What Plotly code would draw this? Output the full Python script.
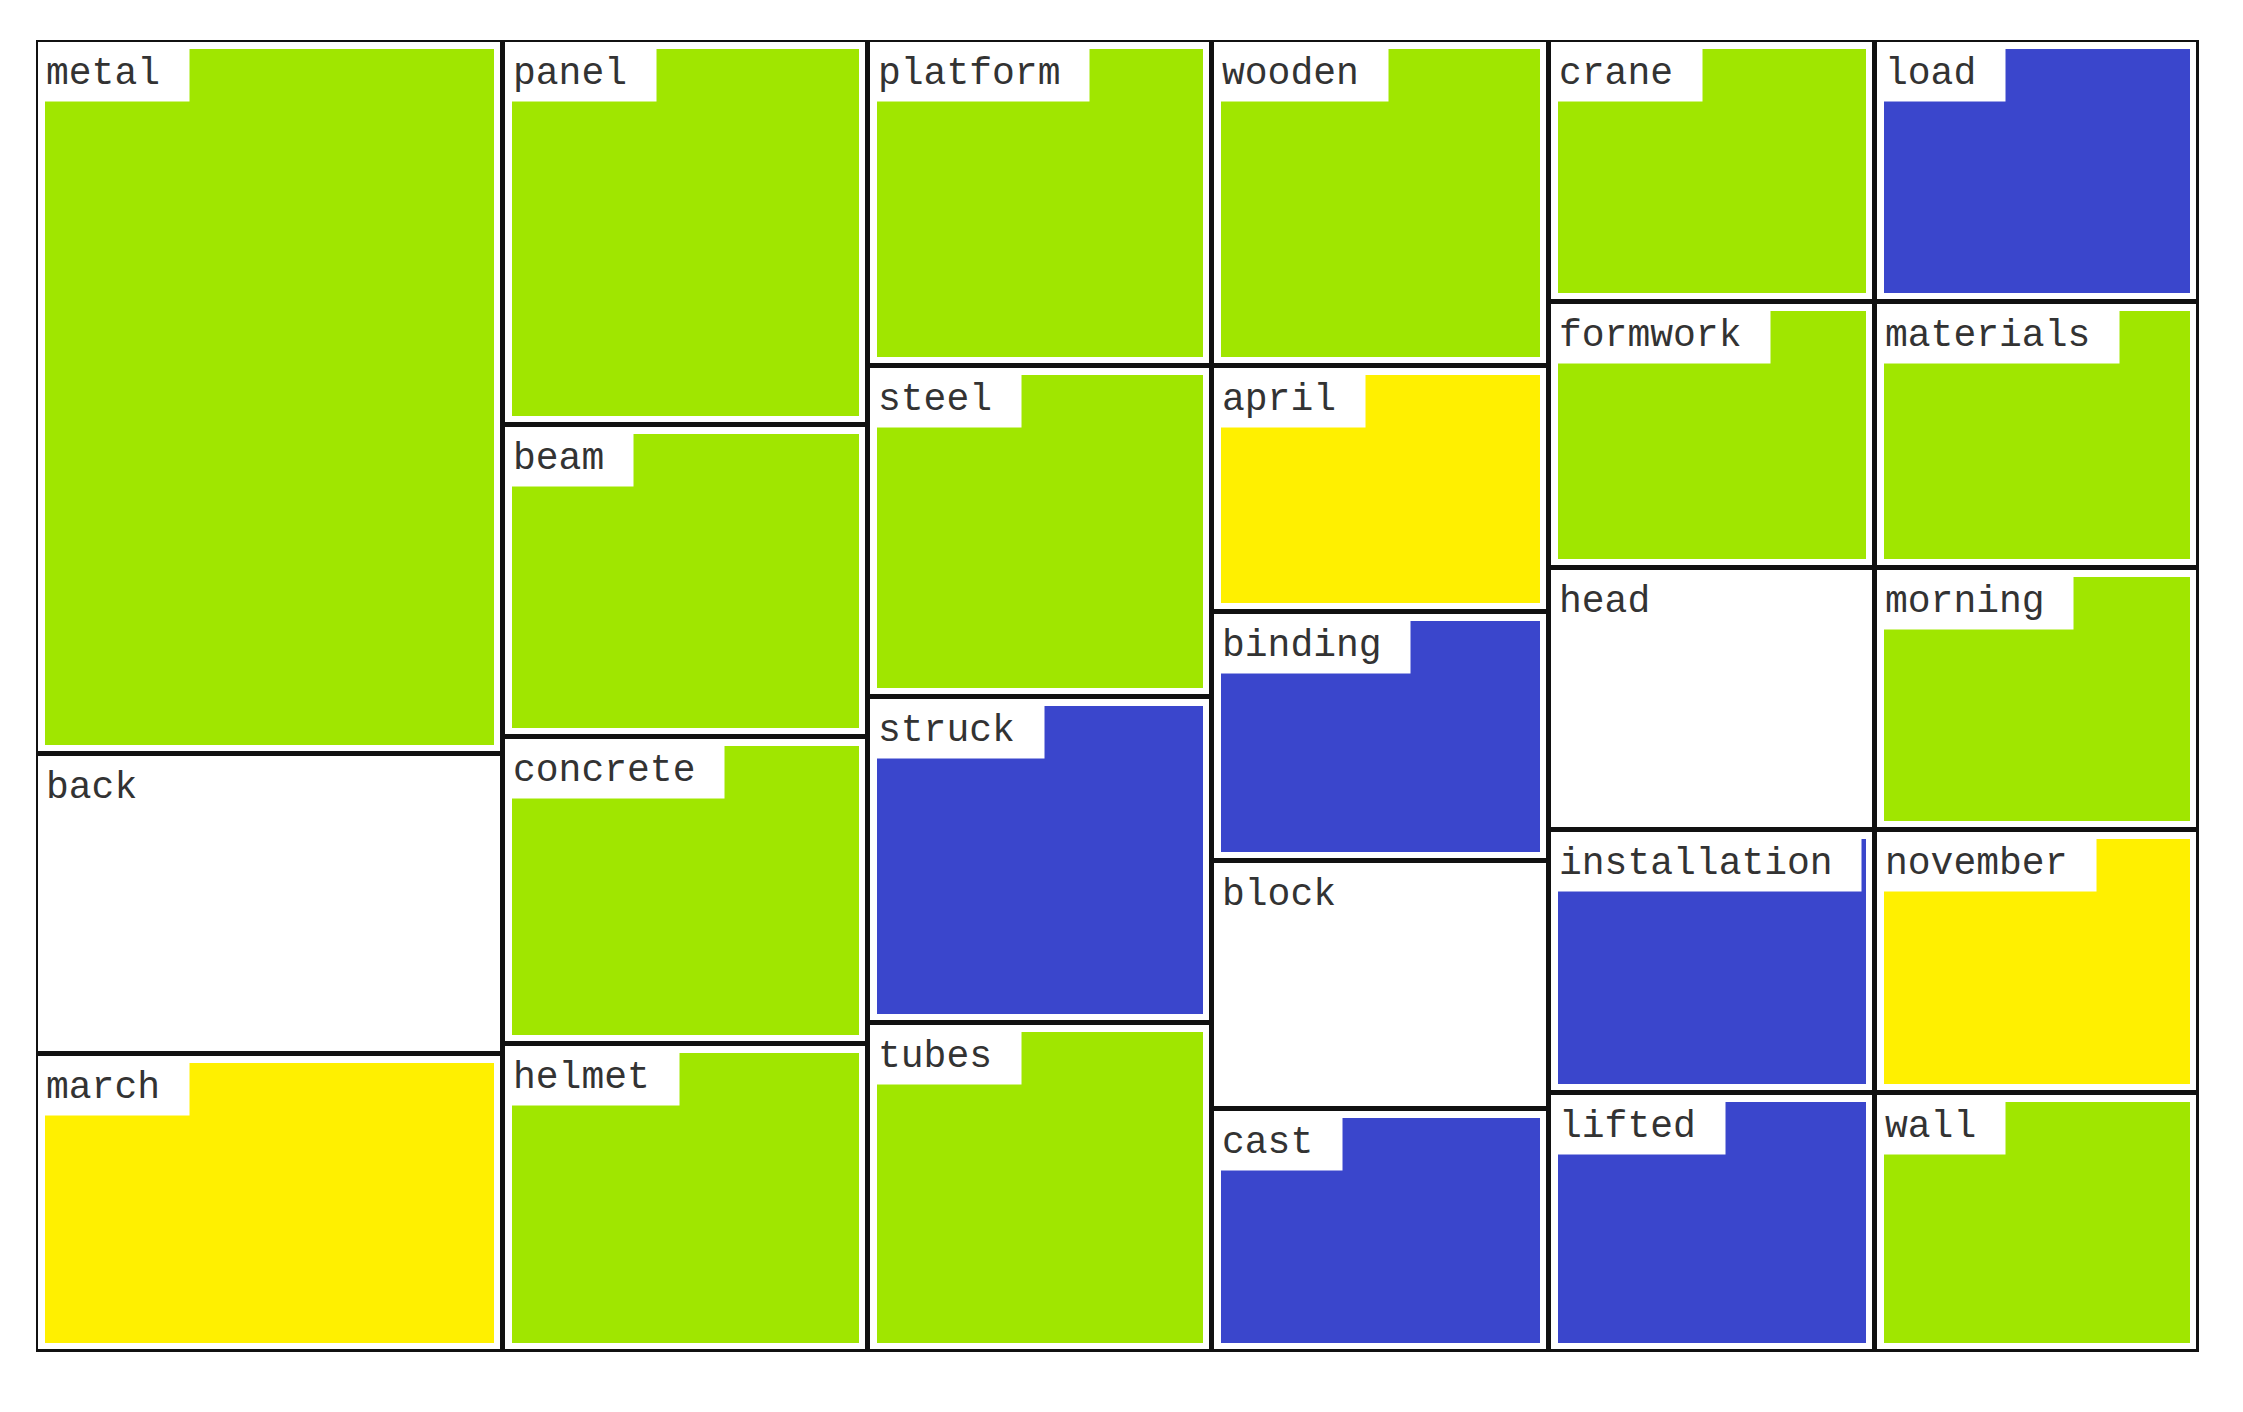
import plotly.graph_objects as go

# word cells, column by column (top to bottom)
labels = ["metal", "back", "march",
          "panel", "beam", "concrete", "helmet",
          "platform", "steel", "struck", "tubes",
          "wooden", "april", "binding", "block", "cast",
          "crane", "formwork", "head", "installation", "lifted",
          "load", "materials", "morning", "november", "wall"]
columns = [0, 0, 0,
           1, 1, 1, 1,
           2, 2, 2, 2,
           3, 3, 3, 3, 3,
           4, 4, 4, 4, 4,
           5, 5, 5, 5, 5]
heights = [714, 300, 298,
           385, 312, 307, 308,
           326, 331, 326, 329,
           326, 246, 249, 248, 243,
           262, 266, 262, 263, 259,
           262, 266, 262, 263, 259]
groups = ["green", "white", "yellow",
          "green", "green", "green", "green",
          "green", "green", "blue", "green",
          "green", "yellow", "blue", "white", "blue",
          "green", "green", "white", "blue", "blue",
          "blue", "green", "green", "yellow", "green"]
col_widths = [467, 365, 344, 337, 326, 324]

palette = {"green": "#a0e600", "yellow": "#fff000", "blue": "#3a46cc", "white": "#ffffff"}

# work out the cell positions from the column widths and cell heights
col_left = [sum(col_widths[:i]) for i in range(len(col_widths))]
x_center, width, base = [], [], []
running = [0] * len(col_widths)
for c, h in zip(columns, heights):
    x_center.append(col_left[c] + col_widths[c] / 2)
    width.append(col_widths[c])
    base.append(running[c])
    running[c] += h

inset = 9
fig = go.Figure()
# outer cells: white with black frame
fig.add_trace(go.Bar(x=x_center, y=heights, base=base, width=width,
                     marker=dict(color="white", line=dict(color="#111111", width=5)),
                     cliponaxis=False, hoverinfo="skip", showlegend=False))
# coloured fill inside each cell
fig.add_trace(go.Bar(x=x_center, y=[h - 2 * inset for h in heights],
                     base=[b + inset for b in base],
                     width=[w - 2 * inset for w in width],
                     marker=dict(color=[palette[g] for g in groups], line=dict(width=0)),
                     text=labels, hoverinfo="text", textposition="none", showlegend=False))

for lab, c, b in zip(labels, columns, base):
    fig.add_annotation(x=col_left[c], y=b, text=lab + "\u00a0", showarrow=False,
                       xanchor="left", yanchor="top", xshift=3, yshift=-5,
                       bgcolor="white", borderpad=6,
                       font=dict(family="Liberation Mono", size=38, color="#333333"))

total_w = sum(col_widths)
fig.update_layout(
    width=2243, height=1412,
    margin=dict(l=28, r=52, t=32, b=68),
    barmode="overlay", bargap=0,
    plot_bgcolor="white", paper_bgcolor="white",
    xaxis=dict(range=[0, total_w], visible=False, fixedrange=True),
    yaxis=dict(range=[running[0], 0], visible=False, fixedrange=True),
)

fig.write_html("out.html")
